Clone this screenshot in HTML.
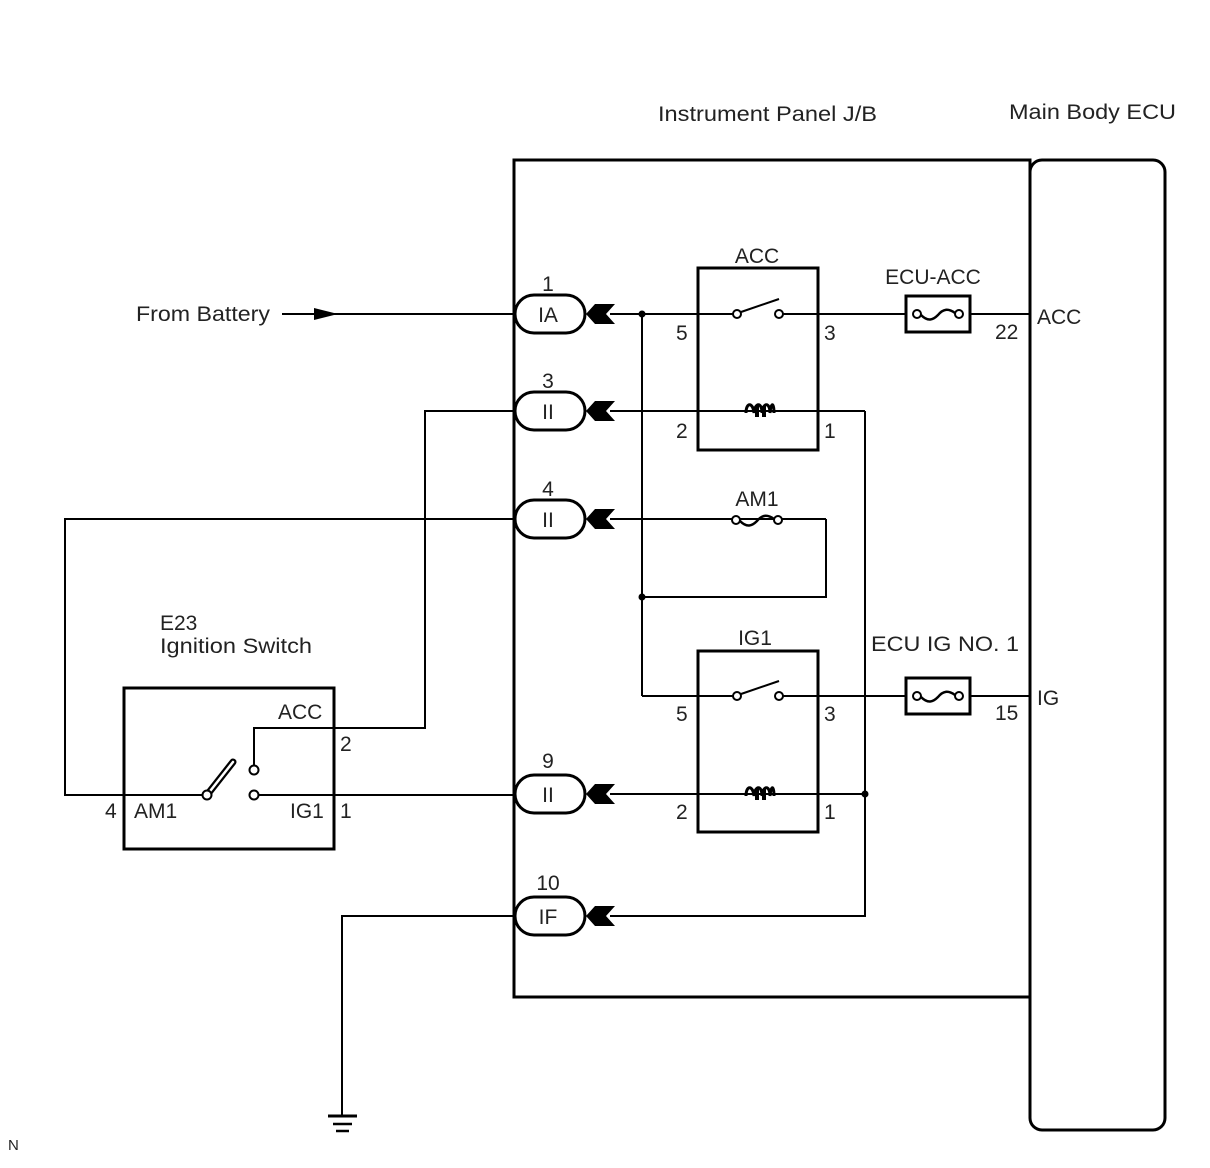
<!DOCTYPE html>
<html><head><meta charset="utf-8"><style>
html,body{margin:0;padding:0;background:#fff;}
svg{display:block;}
text{font-family:"Liberation Sans",Arial,sans-serif;font-size:21px;fill:#222;}
</style></head><body>
<svg width="1210" height="1168" viewBox="0 0 1210 1168" xmlns="http://www.w3.org/2000/svg">
<defs>
<g id="arr"><polygon points="0,0 9,-10 29,-10 20,0 29,10 9,10" fill="#000"/></g>
<g id="coil"><path d="M-14,2 C-14,-9 -7,-9 -6,2 C-5,-9 2,-9 2,2 C3,-9 10,-9 10,2 C11,-9 14,-9 14,2" fill="none" stroke="#000" stroke-width="3"/><rect x="-5" y="-5" width="4" height="11" fill="#000"/><rect x="2" y="-5" width="4" height="11" fill="#000"/></g>
<g id="fz"><circle cx="-21" cy="0" r="4" fill="#fff" stroke="#000" stroke-width="2"/><circle cx="21" cy="0" r="4" fill="#fff" stroke="#000" stroke-width="2"/><path d="M-17,1 C-10,8 -5,6 0,1 C5,-5 10,-6 17,-1" fill="none" stroke="#000" stroke-width="2.5"/></g>
</defs>
<g stroke="#000" fill="none">
<rect x="514" y="160" width="516" height="837" stroke-width="3"/>
<rect x="1030" y="160" width="135" height="970" rx="12" fill="#fff" stroke-width="3"/>
<g stroke-width="2">
<line x1="282" y1="314" x2="515" y2="314"/>
<line x1="610" y1="314" x2="737" y2="314"/>
<line x1="779" y1="314" x2="906" y2="314"/>
<line x1="970" y1="314" x2="1030" y2="314"/>
<line x1="610" y1="411" x2="865" y2="411"/>
<line x1="610" y1="519" x2="826" y2="519"/>
<polyline points="826,519 826,597 642,597"/>
<line x1="642" y1="314" x2="642" y2="696"/>
<line x1="642" y1="696" x2="737" y2="696"/>
<line x1="779" y1="696" x2="906" y2="696"/>
<line x1="970" y1="696" x2="1030" y2="696"/>
<line x1="610" y1="794" x2="865" y2="794"/>
<polyline points="865,411 865,916 610,916"/>
<polyline points="515,411 425,411 425,728 254,728 254,766"/>
<polyline points="515,519 65,519 65,795 203,795"/>
<line x1="258" y1="795" x2="515" y2="795"/>
<polyline points="515,916 342,916 342,1116"/>
</g>
<line x1="328" y1="1116" x2="357" y2="1116" stroke-width="3"/>
<line x1="333" y1="1124" x2="352" y2="1124" stroke-width="2.5"/>
<line x1="336" y1="1131" x2="349" y2="1131" stroke-width="2.5"/>
<rect x="698" y="268" width="120" height="182" stroke-width="3"/>
<rect x="698" y="651" width="120" height="181" stroke-width="3"/>
<line x1="741" y1="312" x2="779" y2="299" stroke-width="2"/>
<line x1="741" y1="694" x2="779" y2="681" stroke-width="2"/>
<rect x="906" y="296" width="64" height="36" stroke-width="3" fill="#fff"/>
<rect x="906" y="678" width="64" height="36" stroke-width="3" fill="#fff"/>
<g stroke-width="3" fill="#fff">
<rect x="515" y="295" width="70" height="38" rx="19"/>
<rect x="515" y="392" width="70" height="38" rx="19"/>
<rect x="515" y="500" width="70" height="38" rx="19"/>
<rect x="515" y="775" width="70" height="38" rx="19"/>
<rect x="515" y="897" width="70" height="38" rx="19"/>
</g>
<rect x="124" y="688" width="210" height="161" stroke-width="3"/>
<line x1="207" y1="795" x2="233" y2="762" stroke-width="7" stroke-linecap="round"/>
<line x1="207" y1="795" x2="233" y2="762" stroke-width="2.5" stroke="#fff" stroke-linecap="round"/>
</g>
<g fill="#fff" stroke="#000" stroke-width="2">
<circle cx="737" cy="314" r="4"/><circle cx="779" cy="314" r="4"/>
<circle cx="737" cy="696" r="4"/><circle cx="779" cy="696" r="4"/>
<circle cx="207" cy="795" r="4.5"/><circle cx="254" cy="770" r="4.5"/><circle cx="254" cy="795" r="4.5"/>
</g>
<use href="#fz" x="938" y="314"/>
<use href="#fz" x="938" y="696"/>
<use href="#fz" x="757" y="520"/>
<use href="#coil" x="760" y="411"/>
<use href="#coil" x="760" y="794"/>
<use href="#arr" x="586" y="314"/><use href="#arr" x="586" y="411"/><use href="#arr" x="586" y="519"/><use href="#arr" x="586" y="794"/><use href="#arr" x="586" y="916"/>
<polygon points="314,308 338,314 314,320" fill="#000"/>
<g fill="#000">
<circle cx="642" cy="314" r="3.5"/><circle cx="642" cy="597" r="3.5"/><circle cx="865" cy="794" r="3.5"/>
</g>
<text x="658" y="121" textLength="219" lengthAdjust="spacingAndGlyphs">Instrument Panel J/B</text>
<text x="1009" y="119" textLength="167" lengthAdjust="spacingAndGlyphs">Main Body ECU</text>
<text x="136" y="321" textLength="134" lengthAdjust="spacingAndGlyphs">From Battery</text>
<g text-anchor="middle">
<text x="548" y="291">1</text><text x="548" y="322">IA</text>
<text x="548" y="388">3</text><text x="548" y="419">II</text>
<text x="548" y="496">4</text><text x="548" y="527">II</text>
<text x="548" y="768">9</text><text x="548" y="802">II</text>
<text x="548" y="890">10</text><text x="548" y="924">IF</text>
<text x="757" y="263">ACC</text>
<text x="755" y="645">IG1</text>
<text x="757" y="506">AM1</text>
<text x="933" y="284">ECU-ACC</text>
<text x="945" y="651" textLength="148" lengthAdjust="spacingAndGlyphs">ECU IG NO. 1</text>
</g>
<text x="676" y="340">5</text><text x="824" y="340">3</text>
<text x="676" y="438">2</text><text x="824" y="438">1</text>
<text x="676" y="721">5</text><text x="824" y="721">3</text>
<text x="676" y="819">2</text><text x="824" y="819">1</text>
<text x="995" y="339">22</text><text x="1037" y="324">ACC</text>
<text x="995" y="720">15</text><text x="1037" y="705">IG</text>
<text x="160" y="630">E23</text>
<text x="160" y="653" textLength="152" lengthAdjust="spacingAndGlyphs">Ignition Switch</text>
<text x="278" y="719">ACC</text>
<text x="340" y="751">2</text>
<text x="340" y="818">1</text>
<text x="290" y="818">IG1</text>
<text x="134" y="818">AM1</text>
<text x="105" y="818">4</text>
<text x="8" y="1150" style="font-size:15px">N</text>
</svg>
</body></html>
